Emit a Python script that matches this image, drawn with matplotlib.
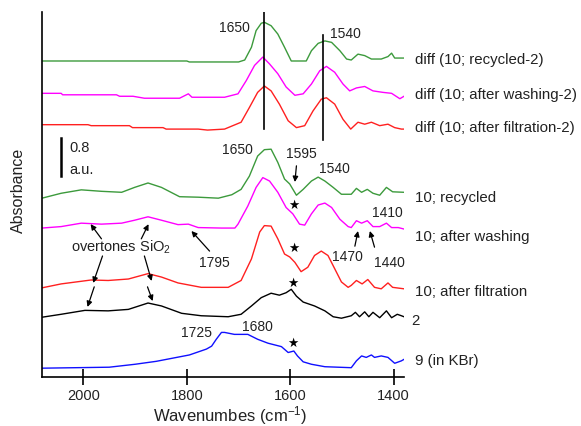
import matplotlib
matplotlib.use('Agg')
import matplotlib.pyplot as plt
import matplotlib.transforms as mtransforms

plt.rcParams['font.family'] = ['Liberation Sans', 'DejaVu Sans']
plt.rcParams['mathtext.fontset'] = 'custom'
plt.rcParams['mathtext.rm'] = 'Liberation Sans'
plt.rcParams['mathtext.it'] = 'Liberation Sans'

# Spectra: wavenumber (cm-1) and absorbance above each baseline (a.u.)
wn_diff_rec = [2080, 1800, 1795, 1700, 1688, 1675, 1666, 1656, 1650, 1637, 1624, 1611, 1598,
               1569, 1559, 1546, 1533, 1520, 1504, 1491, 1482, 1469, 1456, 1443, 1424, 1411,
               1404, 1398, 1380]
a_diff_rec = [0, 0, -0.02, -0.02, 0.02, 0.28, 0.62, 0.77, 0.79, 0.72, 0.55, 0.28, 0,
              0, 0.21, 0.36, 0.41, 0.38, 0.21, 0.04, 0.02, 0.14, 0.11, 0.04, 0.04, 0.09,
              0.16, 0.06, 0.06]

wn_diff_wash = [2080, 2043, 2040, 1936, 1930, 1904, 1882, 1814, 1797, 1790, 1727, 1701, 1685,
                1669, 1653, 1640, 1624, 1608, 1591, 1575, 1559, 1543, 1530, 1514, 1498, 1485,
                1472, 1456, 1440, 1421, 1404, 1388, 1380]
a_diff_wash = [0.01, 0.01, -0.02, -0.02, -0.05, -0.05, -0.09, -0.09, 0, -0.07, -0.07, 0, 0.27,
               0.58, 0.75, 0.61, 0.41, 0.14, -0.03, 0, 0.20, 0.47, 0.56, 0.44, 0.20, 0.06,
               0.12, 0.15, 0.06, 0.03, 0.01, -0.10, -0.05]

wn_diff_filt = [2080, 1991, 1985, 1911, 1905, 1846, 1840, 1778, 1760, 1727, 1695, 1679, 1663,
                1650, 1637, 1621, 1604, 1588, 1572, 1556, 1540, 1530, 1514, 1498, 1483, 1469,
                1456, 1443, 1427, 1411, 1398, 1385, 1380]
a_diff_filt = [0.01, 0.01, -0.01, -0.01, -0.05, -0.05, -0.08, -0.08, -0.10, -0.08, 0.06, 0.36, 0.67,
               0.80, 0.70, 0.43, 0.09, -0.05, -0.01, 0.29, 0.53, 0.56, 0.43, 0.12, -0.08, 0.06,
               0.02, 0.06, -0.01, 0.02, -0.05, -0.08, -0.08]

wn_rec = [2080, 2043, 2004, 1965, 1926, 1901, 1875, 1849, 1814, 1778, 1739, 1713, 1695, 1679,
          1663, 1650, 1637, 1624, 1611, 1601, 1588, 1575, 1559, 1546, 1533, 1517, 1501, 1482,
          1472, 1462, 1451, 1440, 1427, 1414, 1402, 1380]
a_rec = [-0.02, 0.08, 0.15, 0.12, 0.10, 0.20, 0.29, 0.20, 0.01, 0, -0.02, 0.05, 0.16, 0.43,
         0.84, 0.97, 0.98, 0.71, 0.37, 0.27, 0.04, 0.16, 0.33, 0.41, 0.33, 0.20, 0.06, 0.06,
         0.18, 0.10, 0.16, 0.08, 0.04, 0.20, 0.11, 0.10]

wn_wash = [2080, 2043, 2004, 1965, 1926, 1901, 1875, 1849, 1817, 1797, 1778, 1733, 1707, 1701,
           1682, 1666, 1653, 1640, 1624, 1608, 1595, 1582, 1572, 1559, 1546, 1533, 1520, 1504,
           1488, 1482, 1472, 1462, 1451, 1440, 1427, 1414, 1404, 1391, 1380]
a_wash = [-0.02, 0.01, 0.08, 0.06, 0.08, 0.14, 0.21, 0.14, 0.05, 0.06, -0.01, -0.02, -0.02, 0.06,
          0.43, 0.81, 1.01, 0.94, 0.71, 0.40, 0.27, 0.06, 0.04, 0.27, 0.45, 0.49, 0.40, 0.16,
          0.01, -0.01, 0.13, 0.08, 0.13, 0.01, 0.01, 0.08, -0.01, -0.01, -0.04]

wn_filt = [2080, 2043, 1985, 1952, 1913, 1875, 1849, 1817, 1772, 1720, 1695, 1675, 1659, 1650,
           1637, 1624, 1611, 1601, 1591, 1579, 1566, 1553, 1540, 1527, 1514, 1501, 1488, 1482,
           1472, 1461, 1450, 1437, 1424, 1411, 1402, 1380]
a_filt = [0, 0.08, 0.16, 0.15, 0.18, 0.29, 0.22, 0.10, 0.01, 0.01, 0.15, 0.59, 1.14, 1.27,
          1.26, 1.00, 0.69, 0.63, 0.52, 0.33, 0.42, 0.66, 0.75, 0.66, 0.39, 0.12, 0.01, 0.05,
          0.15, 0.08, 0.17, 0.01, -0.02, 0.10, 0.01, -0.02]

wn_2 = [2080, 2043, 1997, 1952, 1913, 1875, 1849, 1810, 1772, 1720, 1695, 1675, 1656, 1637,
        1621, 1608, 1598, 1588, 1575, 1553, 1533, 1517, 1501, 1482, 1474, 1466, 1456, 1448,
        1440, 1427, 1414, 1404, 1393, 1385, 1380]
a_2 = [0, 0.06, 0.14, 0.13, 0.16, 0.29, 0.23, 0.08, 0.03, 0.01, 0.06, 0.23, 0.40, 0.49,
       0.45, 0.50, 0.57, 0.43, 0.31, 0.23, 0.13, 0.01, -0.02, 0.03, 0.10, 0.01, 0.11, 0.01,
       0.10, -0.01, 0.13, -0.01, 0.06, 0.03, 0.01]

wn_9 = [2080, 1950, 1900, 1859, 1795, 1762, 1752, 1743, 1733, 1727, 1708, 1682, 1663, 1643,
        1617, 1604, 1593, 1586, 1575, 1559, 1533, 1482, 1472, 1462, 1453, 1443, 1437, 1424,
        1411, 1398, 1385, 1380]
a_9 = [0, 0.02, 0.08, 0.14, 0.27, 0.39, 0.45, 0.59, 0.73, 0.73, 0.69, 0.69, 0.59, 0.51,
       0.44, 0.32, 0.35, 0.25, 0.13, 0.08, 0.03, 0.01, 0.15, 0.25, 0.22, 0.27, 0.22, 0.25,
       0.22, 0.10, 0.15, 0.18]

labels = ['diff (10; recycled-2)', 'diff (10; after washing-2)', 'diff (10; after filtration-2)',
          '10; recycled', '10; after washing', '10; after filtration', '2', '9 (in KBr)']
spectra = [(wn_diff_rec, a_diff_rec), (wn_diff_wash, a_diff_wash), (wn_diff_filt, a_diff_filt),
           (wn_rec, a_rec), (wn_wash, a_wash), (wn_filt, a_filt), (wn_2, a_2), (wn_9, a_9)]
offsets = [6.45, 5.78, 5.14, 3.67, 3.06, 1.82, 1.22, 0.18]
label_y = [6.49, 5.78, 5.10, 3.67, 2.88, 1.76, 1.16, 0.35]
colors = ['#3c9a3c', '#ff00ff', '#ff2020', '#3c9a3c', '#ff00ff', '#ff2020', 'black', '#1010ff']

fig = plt.figure(figsize=(5.81, 4.27), dpi=100)
ax = fig.add_axes([42/581, 49/427, 362/581, 365/427])

for (wn, a), off, c in zip(spectra, offsets, colors):
    ax.plot(wn, [v + off for v in a], color=c, lw=1.0)

trans = mtransforms.blended_transform_factory(ax.transAxes, ax.transData)
for lab, y in zip(labels, label_y):
    x = 1.019 if lab == '2' else 1.030
    ax.text(x, y, lab, transform=trans, ha='left', va='center', fontsize=10.8, color='#222222')

# marker lines
ax.plot([1650, 1650], [5.06, 7.47], color='black', lw=1.2)
ax.plot([1537, 1537], [4.84, 6.98], color='black', lw=1.2)
# scale bar
ax.plot([2044, 2044], [4.10, 4.88], color='black', lw=1.8)
ax.text(2027, 4.69, '0.8', fontsize=10.5, va='center', ha='left', color='#222222')
ax.text(2027, 4.24, 'a.u.', fontsize=10.5, va='center', ha='left', color='#222222')

ann = [('1650', 1708, 7.14), ('1540', 1493, 7.02), ('1650', 1702, 4.65), ('1595', 1578, 4.57),
       ('1540', 1514, 4.27), ('1410', 1413, 3.37), ('1470', 1489, 2.47), ('1440', 1408, 2.35),
       ('1795', 1746, 2.35), ('1725', 1781, 0.92), ('1680', 1663, 1.04)]
for t, x, y in ann:
    ax.text(x, y, t, fontsize=10, ha='center', va='center', color='#222222')
ax.text(2023, 2.67, 'overtones SiO$_2$', fontsize=10.5, ha='left', va='center', color='#222222')

for x, y in [(1593, 3.53), (1593, 2.65), (1595, 1.94), (1595, 0.71)]:
    ax.text(x, y, '\u2605', family='DejaVu Sans', fontsize=9, ha='center', va='center')

arrows = [((1588, 4.31), (1591, 3.98)), ((1475, 2.67), (1469, 2.98)), ((1437, 2.65), (1446, 2.98)),
          ((1756, 2.57), (1791, 2.98)), ((1965, 2.82), (1986, 3.12)), ((1888, 2.82), (1874, 3.12)),
          ((1963, 2.47), (1981, 1.92)), ((1979, 1.84), (1992, 1.43)), ((1882, 2.47), (1868, 1.96)),
          ((1876, 1.84), (1866, 1.55))]
for start, end in arrows:
    ax.annotate('', xy=end, xytext=start,
                arrowprops=dict(arrowstyle='-|>', color='black', lw=0.9,
                                mutation_scale=8, shrinkA=0, shrinkB=0))

ax.set_xlim(2080, 1380)
ax.set_ylim(0, 7.45)
ax.set_xticks([2000, 1800, 1600, 1400])
ax.set_yticks([])
ax.spines['top'].set_visible(False)
ax.spines['right'].set_visible(False)
ax.spines['left'].set_linewidth(1.2)
ax.spines['bottom'].set_linewidth(1.2)
ax.tick_params(axis='x', direction='inout', length=12, width=1.2, pad=2, labelsize=10.5,
               labelcolor='#222222')

fig.text(230/581, 1 - 416/427, 'Wavenumbes (cm$^{-1}$)', ha='center', va='center',
         fontsize=12, color='#222222')
fig.text(18/581, 1 - 190/427, 'Absorbance', rotation=90, ha='center', va='center',
         fontsize=11.5, color='#222222')

fig.savefig('out.png', dpi=100)
